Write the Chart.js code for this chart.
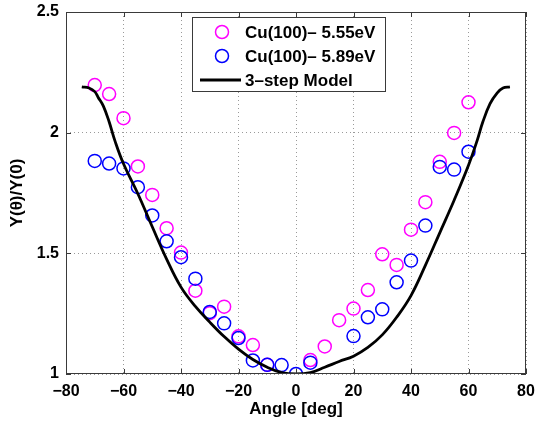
<!DOCTYPE html>
<html>
<head>
<meta charset="utf-8">
<script src="https://cdn.jsdelivr.net/npm/chart.js"></script>
<style>
  body { margin: 0; background: #ffffff; }
  #contenedor { width: 536px; height: 424px; }
</style>
</head>
<body>
<div id="contenedor"><canvas id="grafica" width="536" height="424"></canvas></div>
<script>
//datos
var angulos555 = [ -70, -65, -60, -55, -50, -45, -40, -35, -30, -25, -20, -15, -10, 5, 10, 15, 20, 25, 30, 35, 40, 45, 50, 55, 60 ];
var valores555 = [ 2.197, 2.16, 2.06, 1.86, 1.742, 1.604, 1.503, 1.345, 1.252, 1.279, 1.156, 1.12, 1.038, 1.058, 1.114, 1.223, 1.271, 1.348, 1.496, 1.452, 1.598, 1.712, 1.879, 1.999, 2.126 ];

var angulos589 = [ -70, -65, -60, -55, -50, -45, -40, -35, -30, -25, -20, -15, -10, -5, 0, 5, 20, 25, 30, 35, 40, 45, 50, 55, 60 ];
var valores589 = [ 1.883, 1.872, 1.852, 1.774, 1.657, 1.55, 1.484, 1.395, 1.257, 1.21, 1.149, 1.056, 1.038, 1.037, 1.0, 1.047, 1.157, 1.235, 1.268, 1.38, 1.47, 1.615, 1.858, 1.847, 1.921 ];

var angulosModelo = [ -74.5, -72, -70, -68.8, -67, -65, -63, -60, -55, -50, -45, -40, -35, -30, -25, -20, -15, -10, -5, 0, 5, 10, 15, 20, 25, 30, 35, 40, 45, 50, 55, 60, 63, 65, 67.5, 70, 72, 74.4 ];
var valoresModelo = [ 2.19, 2.185, 2.17, 2.146, 2.11, 2.045, 1.967, 1.871, 1.747, 1.61, 1.476, 1.36, 1.28, 1.215, 1.155, 1.103, 1.06, 1.028, 1.006, 1.0, 1.006, 1.028, 1.052, 1.074, 1.11, 1.162, 1.235, 1.325, 1.45, 1.585, 1.72, 1.865, 1.967, 2.045, 2.12, 2.165, 2.185, 2.19 ];

var etiquetas = [ 'Cu(100)– 5.55eV', 'Cu(100)– 5.89eV', '3–step Model' ];
var colores = [ '#ff00ff', '#0000ff', '#000000' ];

var ticksX = [ -80, -60, -40, -20, 0, 20, 40, 60, 80 ];
var ticksY = [ 1, 1.5, 2, 2.5 ];

var fuente = '"Liberation Sans", Arial, Helvetica, sans-serif';

function puntos( xs, ys )
{
  return xs.map( ( x, i ) => ( { x: x, y: ys[ i ] } ) );
}

function menos( valor )
{
  return String( valor ).replace( '-', '−' );
}

//caja del eje y marcas hacia adentro
var cajaPlugin =
{
  id: 'caja',
  afterDatasetsDraw: function( chart )
  {
    var ctx = chart.ctx;
    var area = chart.chartArea;
    var sx = chart.scales.x;
    var sy = chart.scales.y;

    ctx.save( );
    ctx.strokeStyle = '#3a3a3a';
    ctx.lineWidth = 1;
    ctx.strokeRect( area.left + 0.5, area.top + 0.5, area.right - area.left - 1, area.bottom - area.top - 1 );

    ctx.beginPath( );
    ticksX.forEach( v =>
    {
      var px = Math.round( sx.getPixelForValue( v ) ) + 0.5;
      ctx.moveTo( px, area.bottom );
      ctx.lineTo( px, area.bottom - 5 );
      ctx.moveTo( px, area.top );
      ctx.lineTo( px, area.top + 5 );
    });
    ticksY.forEach( v =>
    {
      var py = Math.round( sy.getPixelForValue( v ) ) + 0.5;
      ctx.moveTo( area.left, py );
      ctx.lineTo( area.left + 5, py );
      ctx.moveTo( area.right, py );
      ctx.lineTo( area.right - 5, py );
    });
    ctx.stroke( );
    ctx.restore( );
  }
};

//leyenda dentro del area
var leyendaPlugin =
{
  id: 'leyenda',
  afterDraw: function( chart )
  {
    var ctx = chart.ctx;
    var filas = [ 32, 56, 80 ];

    ctx.save( );
    ctx.fillStyle = '#ffffff';
    ctx.fillRect( 192, 17, 194, 75 );
    ctx.strokeStyle = '#3a3a3a';
    ctx.lineWidth = 1;
    ctx.strokeRect( 192.5, 17.5, 193, 74 );

    etiquetas.forEach( ( texto, i ) =>
    {
      var y = filas[ i ];
      ctx.strokeStyle = colores[ i ];
      if ( i < 2 )
      {
        ctx.lineWidth = 1.5;
        ctx.beginPath( );
        ctx.arc( 222, y, 6.5, 0, Math.PI * 2 );
        ctx.stroke( );
      }
      else
      {
        ctx.lineWidth = 3;
        ctx.beginPath( );
        ctx.moveTo( 200, y );
        ctx.lineTo( 241, y );
        ctx.stroke( );
      }
      ctx.fillStyle = '#000000';
      ctx.font = 'bold 17px ' + fuente;
      ctx.textBaseline = 'middle';
      ctx.textAlign = 'left';
      ctx.fillText( texto, 245, y + 1 );
    });
    ctx.restore( );
  }
};

Chart.defaults.font.family = fuente;
Chart.defaults.color = '#000000';

var grafica = new Chart( document.getElementById( 'grafica' ),
{
  type: 'scatter',
  data:
  {
    datasets:
    [
      {
        label: etiquetas[ 2 ],
        data: puntos( angulosModelo, valoresModelo ),
        showLine: true,
        borderColor: colores[ 2 ],
        borderWidth: 2.8,
        pointRadius: 0,
        tension: 0.4,
        order: 0,
      },
      {
        label: etiquetas[ 1 ],
        data: puntos( angulos589, valores589 ),
        borderColor: colores[ 1 ],
        backgroundColor: 'rgba(0,0,0,0)',
        borderWidth: 1.5,
        pointRadius: 6.5,
        order: 1,
      },
      {
        label: etiquetas[ 0 ],
        data: puntos( angulos555, valores555 ),
        borderColor: colores[ 0 ],
        backgroundColor: 'rgba(0,0,0,0)',
        borderWidth: 1.5,
        pointRadius: 6.5,
        order: 2,
      },
    ]
  },
  options:
  {
    responsive: false,
    animation: false,
    layout: { padding: { top: 12, right: 10, left: 0, bottom: 0 } },
    plugins:
    {
      legend: { display: false },
      tooltip: { enabled: false },
    },
    scales:
    {
      x:
      {
        type: 'linear',
        min: -80,
        max: 80,
        afterBuildTicks: function( scale ) { scale.ticks = ticksX.map( v => ( { value: v } ) ); },
        afterFit: function( scale ) { scale.height = 50; scale.paddingLeft = 0; scale.paddingRight = 0; },
        ticks:
        {
          padding: 8,
          font: { size: 16, weight: 'bold' },
          callback: function( valor ) { return menos( valor ); },
        },
        grid: { color: '#9a9a9a', lineWidth: 1, drawTicks: false },
        border: { display: false, dash: [ 1, 3 ] },
        title:
        {
          display: true,
          text: 'Angle [deg]',
          font: { size: 17, weight: 'bold' },
          padding: { top: 0, bottom: 4 },
        },
      },
      y:
      {
        type: 'linear',
        min: 1,
        max: 2.5,
        afterBuildTicks: function( scale ) { scale.ticks = ticksY.map( v => ( { value: v } ) ); },
        afterFit: function( scale ) { scale.width = 66; scale.paddingTop = 0; scale.paddingBottom = 0; },
        ticks:
        {
          padding: 7,
          font: { size: 16, weight: 'bold' },
          callback: function( valor ) { return menos( valor ); },
        },
        grid: { color: '#9a9a9a', lineWidth: 1, drawTicks: false },
        border: { display: false, dash: [ 1, 3 ] },
        title:
        {
          display: true,
          text: 'Y(θ)/Y(0)',
          font: { size: 17, weight: 'bold' },
          padding: { top: 7, bottom: 0 },
        },
      },
    },
  },
  plugins: [ cajaPlugin, leyendaPlugin ],
});
</script>
</body>
</html>
